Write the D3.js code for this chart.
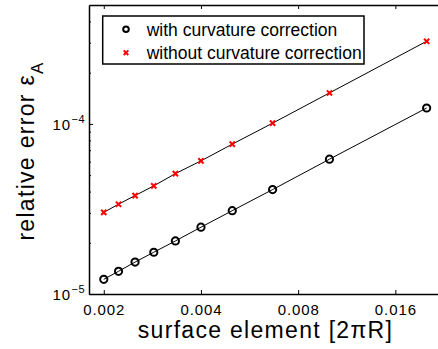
<!DOCTYPE html>
<html>
<head>
<meta charset="utf-8">
<script src="https://cdn.jsdelivr.net/npm/d3@7/dist/d3.min.js"></script>
<style>
  html, body { margin: 0; padding: 0; background: #fff; }
  svg { display: block; font-family: "Liberation Sans", Arial, Helvetica, sans-serif; }
</style>
</head>
<body>
<svg id="chart" width="438" height="349"></svg>
<script>
// ---- data ----
const surfaceElement = [0.002, 0.002222, 0.0025, 0.002857, 0.003333, 0.004, 0.005, 0.006667, 0.01, 0.02];
const withCorrection = [1.22e-5, 1.36e-5, 1.54e-5, 1.76e-5, 2.05e-5, 2.47e-5, 3.09e-5, 4.11e-5, 6.2e-5, 1.24e-4];
const withoutCorrection = [3.02e-5, 3.37e-5, 3.79e-5, 4.32e-5, 5.1e-5, 6.06e-5, 7.6e-5, 1.01e-4, 1.52e-4, 3.06e-4];
const xTicks = [0.002, 0.004, 0.008, 0.016];
const xTickLabels = ["0.002", "0.004", "0.008", "0.016"];
const yMajorTicks = [1e-5, 1e-4];
const yMajorExp = ["\u22125", "\u22124"];
const yMinorTicks = [2e-5, 3e-5, 4e-5, 5e-5, 6e-5, 7e-5, 8e-5, 9e-5, 2e-4, 3e-4, 4e-4];
const legendLabels = ["with curvature correction", "without curvature correction"];

// ---- layout ----
const L = 89, R = 440, T = 5, B = 294;
const svg = d3.select("#chart");

const x = d3.scaleLog().domain([0.0018, 0.022]).range([L, R]);
const y = d3.scaleLog().domain([1e-5, 5e-4]).range([B, T]);

// ---- series lines ----
const line = d3.line().x((d, i) => x(surfaceElement[i])).y(d => y(d));
[withCorrection, withoutCorrection].forEach(s => {
  svg.append("path").attr("d", line(s)).attr("fill", "none")
    .attr("stroke", "#000").attr("stroke-width", 1);
});

// circles
svg.append("g").selectAll("circle").data(withCorrection).join("circle")
  .attr("cx", (d, i) => x(surfaceElement[i])).attr("cy", d => y(d))
  .attr("r", 3.6).attr("fill", "none").attr("stroke", "#000").attr("stroke-width", 2);

// crosses
function cross(g, cx, cy, s) {
  g.append("path")
    .attr("d", `M${cx - s},${cy - s}L${cx + s},${cy + s}M${cx - s},${cy + s}L${cx + s},${cy - s}`)
    .attr("stroke", "#ff0000").attr("stroke-width", 2).attr("fill", "none");
}
const cg = svg.append("g");
withoutCorrection.forEach((d, i) => cross(cg, x(surfaceElement[i]), y(d), 2.6));

// ---- axes ----
const axisColor = "#000";
const ag = svg.append("g");
// bottom axis with inward ticks
const xb = d3.axisBottom(x).tickValues(xTicks).tickFormat((d, i) => xTickLabels[i])
  .tickSizeInner(-4).tickSizeOuter(0).tickPadding(10);
const gxb = ag.append("g").attr("transform", `translate(0,${B})`).call(xb);
gxb.select(".domain").attr("stroke", axisColor).attr("stroke-width", 1.5);
gxb.selectAll(".tick line").attr("stroke", axisColor).attr("stroke-width", 1);
gxb.selectAll(".tick text").attr("font-size", 15).attr("letter-spacing", "0.9px")
  .attr("fill", "#000").attr("font-family", "'Liberation Sans', Arial, sans-serif");

// top axis
const xt = d3.axisTop(x).tickValues(xTicks).tickFormat("").tickSizeInner(-4).tickSizeOuter(0);
const gxt = ag.append("g").attr("transform", `translate(0,${T})`).call(xt);
gxt.select(".domain").attr("stroke", axisColor).attr("stroke-width", 1.5);
gxt.selectAll(".tick line").attr("stroke", axisColor).attr("stroke-width", 1);

// left axis
const yl = d3.axisLeft(y).tickValues(yMajorTicks).tickFormat("").tickSizeInner(-4).tickSizeOuter(0);
const gyl = ag.append("g").attr("transform", `translate(${L},0)`).call(yl);
gyl.select(".domain").attr("stroke", axisColor).attr("stroke-width", 1.5);
gyl.selectAll(".tick line").attr("stroke", axisColor).attr("stroke-width", 1);
const ylm = d3.axisLeft(y).tickValues(yMinorTicks).tickFormat("").tickSizeInner(-2).tickSizeOuter(0);
const gylm = ag.append("g").attr("transform", `translate(${L},0)`).call(ylm);
gylm.select(".domain").remove();
gylm.selectAll(".tick line").attr("stroke", axisColor).attr("stroke-width", 1);

// y tick labels 10^n
yMajorTicks.forEach((v, i) => {
  const t = svg.append("text").attr("x", 71).attr("y", y(v) + 6)
    .attr("text-anchor", "end").attr("font-size", 15).attr("letter-spacing", "0.9px");
  t.append("tspan").text("10");
  svg.append("text").attr("x", 71.5).attr("y", y(v) - 1)
    .attr("font-size", 11).attr("letter-spacing", "0.5px").text(yMajorExp[i]);
});

// ---- labels ----
svg.append("text").attr("x", 265.5).attr("y", 337.5).attr("text-anchor", "middle")
  .attr("font-size", 23).attr("letter-spacing", "1.3px").text("surface element [2\u03c0R]");

const ylab = svg.append("text").attr("transform", "translate(34,151) rotate(-90)")
  .attr("text-anchor", "middle").attr("font-size", 23).attr("letter-spacing", "1.3px");
ylab.append("tspan").text("relative error \u03b5");
ylab.append("tspan").attr("font-size", 17).attr("dy", 9).text("A");

// ---- legend ----
const lg = svg.append("g");
lg.append("rect").attr("x", 102.7).attr("y", 16).attr("width", 261.3).attr("height", 48)
  .attr("fill", "#fff").attr("stroke", "#000").attr("stroke-width", 1.5);
lg.append("circle").attr("cx", 126).attr("cy", 29.3).attr("r", 2.8)
  .attr("fill", "none").attr("stroke", "#000").attr("stroke-width", 2);
cross(lg, 126, 52.7, 2.3);
legendLabels.forEach((s, i) => {
  lg.append("text").attr("x", 146.7).attr("y", [35.5, 58.5][i])
    .attr("font-size", 17.5).attr("fill", "#000").text(s);
});
</script>
</body>
</html>
